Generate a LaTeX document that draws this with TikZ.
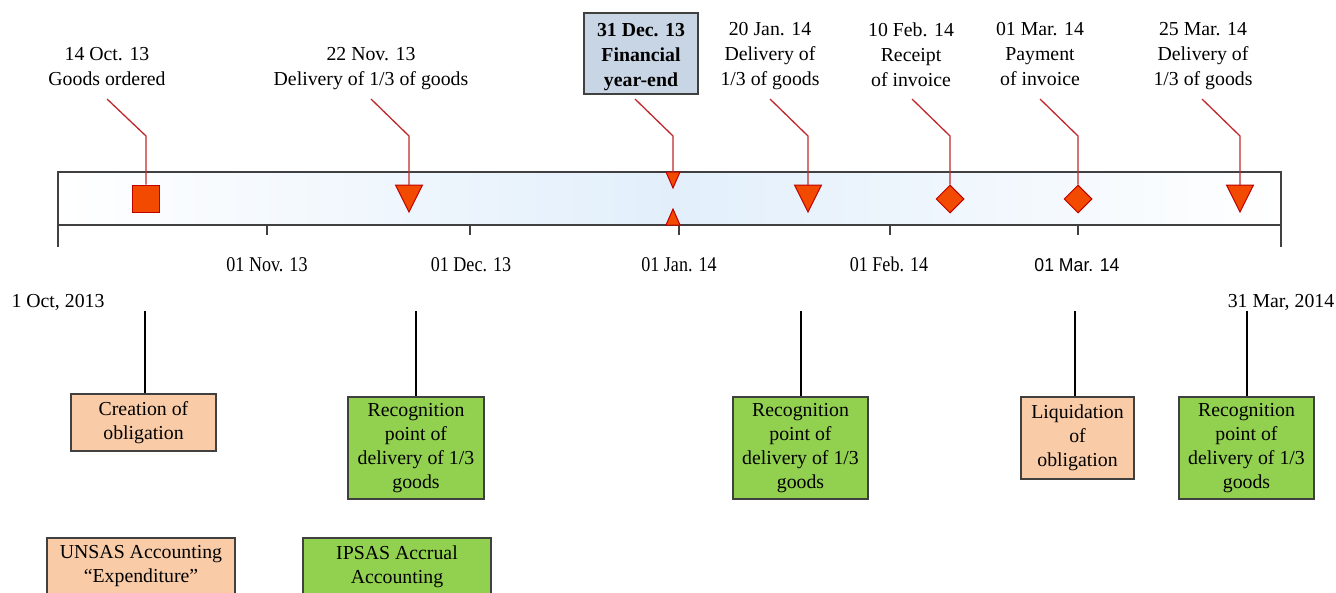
\documentclass[tikz,border=0pt]{standalone}
\usepackage{fontspec}
\setmainfont{Liberation Serif}
\newfontfamily\condserif[FakeStretch=0.86]{Liberation Serif}
\newfontfamily\condsans[FakeStretch=0.95]{Liberation Sans}
\usetikzlibrary{shapes.geometric,calc}
\definecolor{markfill}{HTML}{F24A00}
\definecolor{markline}{HTML}{C00000}
\definecolor{leadred}{HTML}{C0282D}
\definecolor{barblue}{HTML}{E2EFFB}
\definecolor{boxline}{HTML}{404040}
\definecolor{peach}{HTML}{F9CBA7}
\definecolor{grn}{HTML}{92D050}
\definecolor{yebox}{HTML}{C8D5E5}
\begin{document}
\begin{tikzpicture}[x=1pt,y=-1pt,
  evlabel/.style={align=center,inner sep=0pt,anchor=north,font=\rmfamily\fontsize{19.8}{25}\selectfont},
  ticklabel/.style={inner sep=0pt,anchor=base,font=\condserif\fontsize{21}{21}\selectfont},
  endlabel/.style={inner sep=0pt,anchor=base,font=\rmfamily\fontsize{19.8}{24}\selectfont},
  lead/.style={draw=leadred,line width=1.3pt},
  mk/.style={draw=markline,fill=markfill,line width=1pt,line join=miter},
  sqmark/.style={mk,rectangle,minimum size=27pt,inner sep=0pt},
  dmmark/.style={mk,diamond,minimum size=28pt,inner sep=0pt},
  tickline/.style={draw=boxline,line width=1.5pt},
  vline/.style={draw=black,line width=2pt},
  infobox/.style={draw=boxline,line width=1.3pt,align=center,inner sep=0pt,font=\rmfamily\fontsize{19.8}{24}\selectfont},
  peachbox/.style={infobox,fill=peach},
  greenbox/.style={infobox,fill=grn,minimum width=136pt,minimum height=102pt},
]
\useasboundingbox (0,0) rectangle (1336,592);
\clip (0,0) rectangle (1336,592);
\fill[white] (0,0) rectangle (1336,592);

% timeline bar
\draw[draw=boxline,line width=1.5pt,left color=white,right color=white,middle color=barblue] (58,172) rectangle (1281,225);
\draw[tickline] (58,225) -- (58,247);
\draw[tickline] (1281,225) -- (1281,247);
\foreach \x in {267,470,679,890,1078} \draw[tickline] (\x,225) -- (\x,235);

% tick labels
\node[ticklabel] (t1) at (267,271) {01 Nov. 13};
\node[ticklabel] (t2) at (471,271) {01 Dec. 13};
\node[ticklabel] (t3) at (679,271) {01 Jan. 14};
\node[ticklabel] (t4) at (889,271) {01 Feb. 14};
\node[ticklabel,font=\condsans\fontsize{18.6}{18.6}\selectfont] (t5) at (1077,271) {01 Mar. 14};
\node[endlabel] (e1) at (58,307) {1 Oct, 2013};
\node[endlabel] (e2) at (1281,307) {31 Mar, 2014};

% event labels
\node[evlabel] (l1) at (107,47.5) {14 Oct. 13\\Goods ordered};
\node[evlabel] (l2) at (371,47.5) {22 Nov. 13\\Delivery of 1/3 of goods};
\node[draw=boxline,fill=yebox,line width=1.3pt,minimum width=114pt,minimum height=81pt,inner sep=0pt,align=center,font=\rmfamily\bfseries\fontsize{19.8}{25}\selectfont] (l3) at (641,53.5) {\rule{0pt}{21pt}31 Dec. 13\\Financial\\year-end};
\node[evlabel] (l4) at (770,22.5) {20 Jan. 14\\Delivery of\\1/3 of goods};
\node[evlabel] (l5) at (911,22.5) {10 Feb. 14\\Receipt\\of invoice};
\node[evlabel] (l6) at (1040,22.5) {01 Mar. 14\\Payment\\of invoice};
\node[evlabel] (l7) at (1203,22.5) {25 Mar. 14\\Delivery of\\1/3 of goods};

% markers
\node[sqmark] (m1) at (146,198.5) {};
\coordinate (m2) at (409,185);
\draw[mk] (m2) ++(-13.5,0) -- ++(27,0) -- ++(-13.5,27) -- cycle;
\coordinate (m3) at (673,172);
\draw[mk] (m3) ++(-7,0) -- ++(14,0) -- ++(-7,16) -- cycle;
\coordinate (m3b) at (673,209);
\draw[mk] (m3b) ++(-7,16) -- ++(14,0) -- ++(-7,-16) -- cycle;
\coordinate (m4) at (808,185);
\draw[mk] (m4) ++(-13.5,0) -- ++(27,0) -- ++(-13.5,27) -- cycle;
\node[dmmark] (m5) at (950,199) {};
\node[dmmark] (m6) at (1078,199) {};
\coordinate (m7) at (1240,185);
\draw[mk] (m7) ++(-13.5,0) -- ++(27,0) -- ++(-13.5,27) -- cycle;

% leads
\coordinate (s1) at (107,99);  \coordinate (b1) at (146,136);
\coordinate (s2) at (371,99);  \coordinate (b2) at (409,136);
\coordinate (s3) at (635,99);  \coordinate (b3) at (673,136);
\coordinate (s4) at (770,99);  \coordinate (b4) at (808,136);
\coordinate (s5) at (912,99);  \coordinate (b5) at (950,136);
\coordinate (s6) at (1040,99); \coordinate (b6) at (1078,136);
\coordinate (s7) at (1202,99); \coordinate (b7) at (1240,136);
\draw[lead] (s1) -- (b1) -- (m1.north);
\draw[lead] (s2) -- (b2) -- (m2);
\draw[lead] (s3) -- (b3) -- (m3);
\draw[lead] (s4) -- (b4) -- (m4);
\draw[lead] (s5) -- (b5) -- (m5.north);
\draw[lead] (s6) -- (b6) -- (m6.north);
\draw[lead] (s7) -- (b7) -- (m7);

% bottom boxes
\node[peachbox,minimum width=145pt,minimum height=57pt] (c1) at (143.5,422.5) {Creation of\\obligation};
\node[greenbox] (g1) at (416,448) {Recognition\\point of\\delivery of 1/3\\goods};
\node[greenbox,minimum width=135pt] (g2) at (800.5,448) {Recognition\\point of\\delivery of 1/3\\goods};
\node[peachbox,minimum width=113pt,minimum height=82pt] (c2) at (1077.5,438) {Liquidation\\of\\obligation};
\node[greenbox,minimum width=135pt] (g3) at (1246.5,448) {Recognition\\point of\\delivery of 1/3\\goods};
\node[peachbox,minimum width=188pt,minimum height=57pt] (u1) at (141,566.5) {UNSAS Accounting\\“Expenditure”};
\node[infobox,fill=grn,minimum width=188pt,minimum height=57pt] (u2) at (397,566.5) {IPSAS Accrual\\Accounting};

% vertical connectors
\coordinate (v1) at (145,311);
\coordinate (v2) at (416,311);
\coordinate (v3) at (801,311);
\coordinate (v4) at (1075,311);
\coordinate (v5) at (1247,311);
\draw[vline] (v1) -- (v1 |- c1.north);
\draw[vline] (v2) -- (v2 |- g1.north);
\draw[vline] (v3) -- (v3 |- g2.north);
\draw[vline] (v4) -- (v4 |- c2.north);
\draw[vline] (v5) -- (v5 |- g3.north);
\end{tikzpicture}
\end{document}
